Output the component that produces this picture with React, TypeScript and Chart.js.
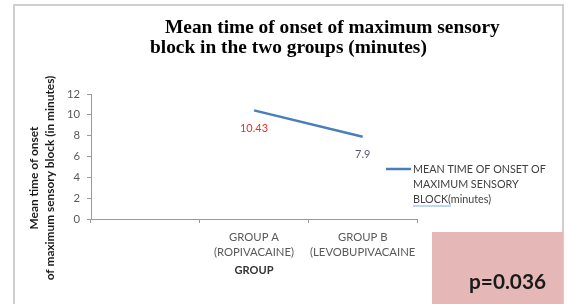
import React, { useEffect, useRef } from 'react';
import { Chart, registerables } from 'chart.js';

Chart.register(...registerables);

// ---------- data ----------
const categories: (string | string[])[] = ['', ['GROUP A', '(ROPIVACAINE)'], ['GROUP B', '(LEVOBUPIVACAINE']];
const seriesName = 'MEAN TIME OF ONSET OF MAXIMUM SENSORY BLOCK(minutes)';
const legendLines = ['MEAN TIME OF ONSET OF', 'MAXIMUM SENSORY', 'BLOCK(minutes)'];
const meanOnset: (number | null)[] = [null, 10.43, 7.9];
const valueLabels = ['', '10.43', '7.9'];
const valueLabelColors = ['', '#f22b2b', '#5a5a78'];
const yMin = 0;
const yMax = 12;
const yStep = 2;
const titleLines = ['Mean time of onset of maximum sensory', 'block in the two groups (minutes)'];
const yTitleLines = ['Mean time of onset', 'of maximum sensory block (in minutes)'];
const xTitle = 'GROUP';
const pValueText = 'p=0.036';

// ---------- styling ----------
const W = 568;
const H = 304;
const SANS = 'Lato, "Liberation Sans", Arial, sans-serif';
const SERIF = '"Liberation Serif", "Times New Roman", serif';
const LINE_COLOR = '#4a7ebb';
const AXIS_COLOR = '#9a9a9a';
const TICK_COLOR = '#595959';

let measureCtx: CanvasRenderingContext2D | null = null;
function fitSize(text: string, weight: string, family: string, width: number) {
  if (!measureCtx) measureCtx = document.createElement('canvas').getContext('2d');
  const ctx = measureCtx as CanvasRenderingContext2D;
  ctx.font = `${weight} 10px ${family}`;
  return (10 * width) / ctx.measureText(text).width;
}

function makeDecor(sz: any) {
  return {
    id: 'decor',
    beforeDraw(chart: any) {
      const ctx: CanvasRenderingContext2D = chart.ctx;
      ctx.save();
      ctx.fillStyle = '#ffffff';
      ctx.fillRect(0, 0, W, H);
      ctx.strokeStyle = '#cfcfcf';
      ctx.lineWidth = 2;
      ctx.strokeRect(14, 5, 549, 330);
      ctx.restore();
    },
    afterDraw(chart: any) {
      const ctx: CanvasRenderingContext2D = chart.ctx;
      ctx.save();

      // chart title
      ctx.font = `bold ${sz.title}px ${SERIF}`;
      ctx.fillStyle = '#000000';
      ctx.textAlign = 'left';
      ctx.textBaseline = 'middle';
      ctx.fillText(titleLines[0], 165, 28);
      ctx.fillText(titleLines[1], 150, 48);

      // y-axis title (rotated)
      ctx.save();
      ctx.font = `bold ${sz.yTitle}px ${SANS}`;
      ctx.fillStyle = '#1a1a1a';
      ctx.translate(0, 178);
      ctx.rotate(-Math.PI / 2);
      ctx.textAlign = 'center';
      ctx.textBaseline = 'middle';
      ctx.fillText(yTitleLines[0], 0, 34);
      ctx.fillText(yTitleLines[1], 0, 50);
      ctx.restore();

      // data labels
      const meta = chart.getDatasetMeta(0);
      ctx.font = `${sz.value}px ${SANS}`;
      ctx.textAlign = 'center';
      ctx.textBaseline = 'middle';
      meta.data.forEach((pt: any, i: number) => {
        if (meanOnset[i] == null) return;
        ctx.fillStyle = valueLabelColors[i];
        ctx.fillText(valueLabels[i], pt.x, pt.y + 18);
      });

      // legend
      ctx.strokeStyle = LINE_COLOR;
      ctx.lineWidth = 2.5;
      ctx.beginPath();
      ctx.moveTo(386, 169);
      ctx.lineTo(411, 169);
      ctx.stroke();
      ctx.font = `${sz.legend}px ${SANS}`;
      ctx.fillStyle = '#404040';
      ctx.textAlign = 'left';
      ctx.textBaseline = 'middle';
      legendLines.forEach((l, i) => ctx.fillText(l, 413, 170 + i * 15));
      const bw = ctx.measureText('BLOCK(').width;
      ctx.strokeStyle = '#a9c8f0';
      ctx.lineWidth = 1.5;
      ctx.beginPath();
      ctx.moveTo(413, 206);
      ctx.lineTo(413 + bw, 206);
      ctx.stroke();

      // p-value box
      ctx.fillStyle = '#e5b8b7';
      ctx.fillRect(432, 232, 131, 72);
      ctx.font = `bold ${sz.p}px ${SANS}`;
      ctx.fillStyle = '#1a1a1a';
      ctx.textAlign = 'right';
      ctx.textBaseline = 'middle';
      ctx.fillText(pValueText, 546, 282);

      ctx.restore();
    },
  };
}

export default function App() {
  const ref = useRef<HTMLCanvasElement>(null);
  useEffect(() => {
    const sz = {
      title: fitSize(titleLines[0], 'bold', SERIF, 335),
      yTitle: fitSize(yTitleLines[1], 'bold', SANS, 205),
      tick: fitSize('(ROPIVACAINE)', 'normal', SANS, 80),
      legend: fitSize(legendLines[0], 'normal', SANS, 133),
      value: fitSize('10.43', 'normal', SANS, 28),
      xTitle: fitSize(xTitle, 'bold', SANS, 39),
      p: fitSize(pValueText, 'bold', SANS, 77),
    };
    const chart = new Chart(ref.current as HTMLCanvasElement, {
      type: 'line',
      data: {
        labels: categories,
        datasets: [
          {
            label: seriesName,
            data: meanOnset,
            borderColor: LINE_COLOR,
            backgroundColor: LINE_COLOR,
            borderWidth: 2.5,
            pointRadius: 0,
            tension: 0,
            fill: false,
          },
        ],
      },
      options: {
        responsive: false,
        animation: false,
        devicePixelRatio: 1,
        layout: { padding: { left: 51, right: 151, top: 94, bottom: 20 } },
        plugins: {
          legend: { display: false },
          title: { display: false },
          tooltip: { enabled: false },
        },
        scales: {
          x: {
            type: 'category',
            offset: true,
            afterFit: (s: any) => {
              s.height = 65;
            },
            grid: {
              offset: true,
              drawOnChartArea: false,
              drawTicks: true,
              tickLength: 4,
              color: AXIS_COLOR,
            },
            border: { display: true, color: AXIS_COLOR, width: 1 },
            ticks: {
              autoSkip: false,
              maxRotation: 0,
              minRotation: 0,
              padding: 7,
              color: TICK_COLOR,
              font: { family: SANS, size: sz.tick, lineHeight: 15 / sz.tick },
            },
            title: {
              display: true,
              text: xTitle,
              color: '#333333',
              font: { family: SANS, size: sz.xTitle, weight: 'bold', lineHeight: 1.2 },
              padding: { top: 0, bottom: 7 },
            },
          },
          y: {
            min: yMin,
            max: yMax,
            afterFit: (s: any) => {
              s.width = 40;
            },
            grid: {
              drawOnChartArea: false,
              drawTicks: true,
              tickLength: 4,
              color: AXIS_COLOR,
            },
            border: { display: true, color: AXIS_COLOR, width: 1 },
            ticks: {
              stepSize: yStep,
              padding: 7,
              color: TICK_COLOR,
              font: { family: SANS, size: sz.tick },
            },
          },
        },
      },
      plugins: [makeDecor(sz)],
    } as any);
    return () => chart.destroy();
  }, []);
  return (
    <div style={{ position: 'absolute', left: 0, top: 0, width: W, height: H }}>
      <canvas ref={ref} width={W} height={H} style={{ display: 'block', width: W, height: H }} />
    </div>
  );
}
